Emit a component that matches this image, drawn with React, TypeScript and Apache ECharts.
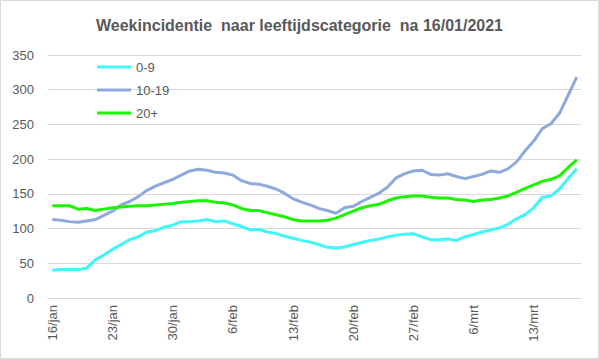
import React, { useEffect, useRef } from "react";
import * as echarts from "echarts";

const titleText = "Weekincidentie  naar leeftijdscategorie  na 16/01/2021";

const categories = [
  "16/jan", "17/jan", "18/jan", "19/jan", "20/jan", "21/jan", "22/jan", "23/jan", "24/jan", "25/jan",
  "26/jan", "27/jan", "28/jan", "29/jan", "30/jan", "31/jan", "1/feb", "2/feb", "3/feb", "4/feb",
  "5/feb", "6/feb", "7/feb", "8/feb", "9/feb", "10/feb", "11/feb", "12/feb", "13/feb", "14/feb",
  "15/feb", "16/feb", "17/feb", "18/feb", "19/feb", "20/feb", "21/feb", "22/feb", "23/feb", "24/feb",
  "25/feb", "26/feb", "27/feb", "28/feb", "1/mrt", "2/mrt", "3/mrt", "4/mrt", "5/mrt", "6/mrt",
  "7/mrt", "8/mrt", "9/mrt", "10/mrt", "11/mrt", "12/mrt", "13/mrt", "14/mrt", "15/mrt", "16/mrt",
  "17/mrt", "18/mrt",
];

const age0to9 = [
  40, 41, 41, 41, 43, 55, 62, 70, 77, 84,
  88, 95, 97, 102, 105, 110, 110, 111, 113, 110,
  111, 107, 103, 98, 99, 95, 93, 89, 86, 83,
  80.5, 77, 73, 72, 73.5, 77, 80, 83, 85, 88,
  90.5, 92, 92.5, 88, 84, 84, 85, 83, 88, 91.5,
  95, 98, 101, 106, 114, 120, 130, 145, 147, 157,
  172, 186,
];

const age10to19 = [
  113, 112, 110, 109, 111, 113, 119, 125, 134, 139,
  146, 155, 161, 166, 171, 177, 183, 185.5, 184, 181,
  180, 177, 169, 165, 164, 161, 157, 151, 143, 138,
  134, 129, 126, 122, 130, 132, 139, 145, 151, 160,
  173, 179, 183, 184, 178, 177, 179, 175, 172, 175,
  178, 183, 181, 186, 196, 212, 226, 244, 251, 266,
  292, 318,
];

const age20plus = [
  133, 133, 133, 128, 129, 126, 128, 130, 131, 132,
  133, 133, 134, 135, 136, 138, 139, 140, 140, 138,
  137, 134, 129, 126, 126, 123, 120, 117, 113, 111,
  111, 111, 112, 115, 120, 125, 130, 133, 135, 140,
  144, 146, 147, 147, 145, 144, 144, 142, 141, 139,
  141, 142, 144, 147, 152, 158, 163, 168, 171, 176,
  188, 199,
];

const seriesNames = ["0-9", "10-19", "20+"];
const seriesColors = ["#3ff7f7", "#8eaadc", "#1cf500"];

const FONT = "'Liberation Sans', Arial, sans-serif";
const TEXT_COLOR = "#595959";

export default function App() {
  const ref = useRef<HTMLDivElement>(null);

  useEffect(() => {
    if (!ref.current) return;
    const chart = echarts.init(ref.current, undefined, { renderer: "svg" });
    const values = [age0to9, age10to19, age20plus];
    chart.setOption({
      animation: false,
      backgroundColor: "#ffffff",
      title: {
        text: titleText,
        left: "center",
        top: 12,
        textStyle: {
          fontFamily: FONT,
          fontSize: 16,
          fontWeight: "bold",
          color: TEXT_COLOR,
        },
      },
      graphic: [
        {
          type: "rect",
          shape: { x: 0.5, y: 0.5, width: 598, height: 358 },
          style: { fill: "none", stroke: "#d9d9d9", lineWidth: 1 },
          silent: true,
        },
      ],
      legend: {
        orient: "vertical",
        left: 92,
        top: 54,
        icon: "rect",
        itemWidth: 34,
        itemHeight: 3,
        itemGap: 7,
        textStyle: {
          fontFamily: FONT,
          fontSize: 13,
          lineHeight: 16,
          color: TEXT_COLOR,
        },
        data: seriesNames,
      },
      grid: {
        left: 48,
        right: 18,
        top: 55,
        bottom: 61,
        containLabel: false,
      },
      xAxis: {
        type: "category",
        data: categories,
        boundaryGap: true,
        axisLine: { lineStyle: { color: "#d9d9d9", width: 1 } },
        axisTick: { interval: 6, length: 5, lineStyle: { color: "#d9d9d9" } },
        axisLabel: {
          interval: 6,
          rotate: 90,
          margin: 7,
          fontFamily: FONT,
          fontSize: 13,
          color: TEXT_COLOR,
        },
        splitLine: { show: false },
      },
      yAxis: {
        type: "value",
        min: 0,
        max: 350,
        interval: 50,
        axisLine: { show: false },
        axisTick: { show: false },
        axisLabel: {
          margin: 14,
          fontFamily: FONT,
          fontSize: 13,
          color: TEXT_COLOR,
        },
        splitLine: { lineStyle: { color: "#d9d9d9", width: 1 } },
      },
      series: seriesNames.map((name, k) => ({
        name,
        type: "line",
        data: values[k],
        symbol: "none",
        showSymbol: false,
        smooth: false,
        color: seriesColors[k],
        lineStyle: { width: 3, color: seriesColors[k] },
      })),
    });
    return () => {
      chart.dispose();
    };
  }, []);

  return (
    <div
      ref={ref}
      style={{ position: "absolute", left: 0, top: 0, width: 599, height: 359 }}
    />
  );
}
